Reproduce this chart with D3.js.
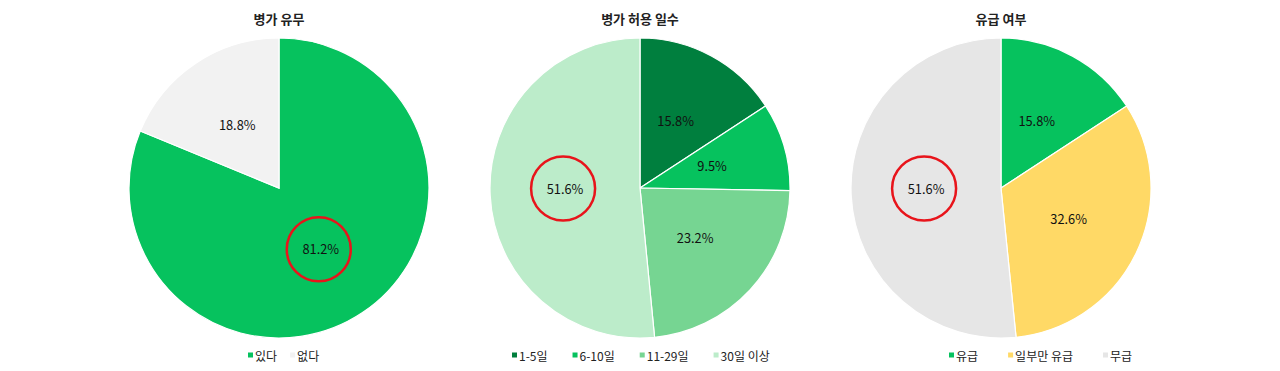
<!DOCTYPE html>
<html><head><meta charset="utf-8">
<script src="https://cdn.jsdelivr.net/npm/d3@7"></script>
<style>
body{margin:0;background:#fff;}
svg text{font-family:"Noto Sans CJK KR","Noto Sans",sans-serif;}
</style></head>
<body><svg id="c" width="1280" height="371"></svg>
<script>
const titles = ["병가 유무", "병가 허용 일수", "유급 여부"];
const cats1 = ["있다", "없다"];
const vals1 = [81.2, 18.8];
const cols1 = ["#06c25e", "#f2f2f2"];
const cats2 = ["1-5일", "6-10일", "11-29일", "30일 이상"];
const vals2 = [15.8, 9.5, 23.2, 51.6];
const cols2 = ["#007f3e", "#06c25e", "#76d592", "#bcecca"];
const cats3 = ["유급", "일부만 유급", "무급"];
const vals3 = [15.8, 32.6, 51.6];
const cols3 = ["#06c25e", "#ffd966", "#e6e6e6"];
const highlighted = ["있다", "30일 이상", "무급"];

const charts = [
  {title: titles[0], cats: cats1, vals: vals1, cols: cols1, cx: 279, hl: highlighted[0], lx: 248, gap: 13},
  {title: titles[1], cats: cats2, vals: vals2, cols: cols2, cx: 640, hl: highlighted[1], lx: 512, gap: 25},
  {title: titles[2], cats: cats3, vals: vals3, cols: cols3, cx: 1001, hl: highlighted[2], lx: 949, gap: 30}
];
const svg = d3.select("#c");
const R = 150, cy = 188;
charts.forEach(ch => {
  const g = svg.append("g").attr("transform", `translate(${ch.cx},${cy})`);
  const data = ch.cats.map((c, i) => ({cat: c, v: ch.vals[i], col: ch.cols[i]}));
  const pie = d3.pie().value(d => d.v).sort(null);
  const arc = d3.arc().innerRadius(0).outerRadius(R);
  const lab = d3.arc().innerRadius(R/2).outerRadius(R/2);
  const arcs = pie(data);
  g.selectAll("path").data(arcs).join("path")
    .attr("d", arc).attr("fill", d => d.data.col)
    .attr("stroke", "#fff").attr("stroke-width", 1.2);
  const lpos = d => {
    const [x, y] = lab.centroid(d);
    return d.data.cat === ch.hl && Math.abs(x) > 60 ? [x, 0] : [x, y - 1.5];
  };
  g.selectAll("text.v").data(arcs).join("text").attr("class", "v")
    .attr("transform", d => `translate(${lpos(d)})`)
    .attr("text-anchor", "middle").attr("dominant-baseline", "central")
    .attr("font-size", 12.8).attr("fill", "#111")
    .text(d => d.data.v.toFixed(1) + "%");
  arcs.filter(d => d.data.cat === ch.hl).forEach(d => {
    const [x, y] = lpos(d);
    g.append("circle").attr("cx", x - 2).attr("cy", y + 0.5).attr("r", 32)
      .attr("fill", "none").attr("stroke", "#e8141b").attr("stroke-width", 2.5);
  });
  svg.append("text").attr("x", ch.cx).attr("y", 18).attr("text-anchor", "middle")
    .attr("dominant-baseline", "central").attr("font-size", 13).attr("font-weight", 700)
    .attr("fill", "#222").text(ch.title);
  // legend
  const lg = svg.append("g").attr("transform", `translate(${ch.lx},355)`);
  const items = lg.selectAll("g").data(data).join("g");
  items.append("rect").attr("width", 5).attr("height", 5).attr("y", -2.5).attr("fill", d => d.col);
  items.append("text").attr("x", 7).attr("dominant-baseline", "central")
    .attr("font-size", 12).attr("fill", "#222").text(d => d.cat);
  let x = 0;
  items.each(function() {
    const w = this.getBBox().width;
    d3.select(this).attr("transform", `translate(${x},0)`);
    x += w + ch.gap;
  });
});
</script></body></html>
